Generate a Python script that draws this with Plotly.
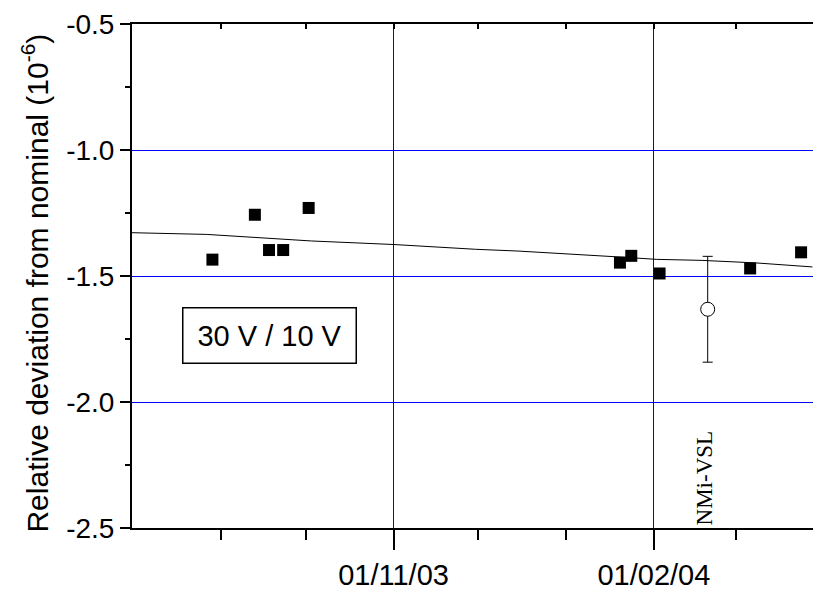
import plotly.graph_objects as go

# ---- data ----
meas_dates = ["2003-08-29", "2003-09-13", "2003-09-18", "2003-09-23", "2003-10-02",
              "2004-01-20", "2004-01-24", "2004-02-03", "2004-03-06", "2004-03-24"]
meas_values = [-1.435, -1.257, -1.397, -1.397, -1.230,
               -1.447, -1.420, -1.490, -1.470, -1.406]

ref_dates = ["2004-02-20"]
ref_values = [-1.632]
ref_unc = [0.21]

fit_dates = ["2003-07-31", "2003-08-27", "2003-10-03", "2003-11-01", "2003-11-30",
             "2003-12-15", "2004-01-19", "2004-02-02", "2004-02-18", "2004-03-08",
             "2004-03-28"]
fit_values = [-1.328, -1.335, -1.361, -1.375, -1.394,
              -1.401, -1.424, -1.434, -1.438, -1.448, -1.464]

x_major = ["2003-11-01", "2004-02-01"]
x_major_text = ["01/11/03", "01/02/04"]
x_minor = ["2003-09-01", "2003-10-01", "2003-12-01", "2004-01-01", "2004-03-01"]
x_top = ["2003-09-01", "2003-10-01", "2003-11-01", "2003-12-01", "2004-01-01",
         "2004-02-01", "2004-03-01"]
y_major = [-2.5, -2.0, -1.5, -1.0, -0.5]
y_major_text = ["-2.5", "-2.0", "-1.5", "-1.0", "-0.5"]
y_minor = [-2.25, -1.75, -1.25, -0.75]

x_range = ["2003-07-31 14:00", "2004-03-28 05:00"]
y_range = [-2.5, -0.5]

FONT = "Liberation Sans, Arial, sans-serif"
GRID = "#0000ff"

fig = go.Figure()

fig.add_trace(go.Scatter(x=fit_dates, y=fit_values, mode="lines",
                         line=dict(color="black", width=1), showlegend=False))
fig.add_trace(go.Scatter(x=meas_dates, y=meas_values, mode="markers",
                         marker=dict(symbol="square", size=12, color="black",
                                     line=dict(width=0)),
                         showlegend=False))
fig.add_trace(go.Scatter(x=ref_dates, y=ref_values, mode="markers",
                         marker=dict(symbol="circle", size=14, color="white",
                                     line=dict(color="black", width=1)),
                         error_y=dict(type="data", array=ref_unc, color="black",
                                      thickness=1, width=5),
                         showlegend=False))
# invisible trace for the top axis
fig.add_trace(go.Scatter(x=x_range, y=[-3, -3], xaxis="x2", mode="markers",
                         marker=dict(opacity=0), showlegend=False, hoverinfo="skip"))

fig.update_layout(
    width=813, height=591, autosize=False,
    margin=dict(l=132, r=0, t=24, b=60),
    paper_bgcolor="white", plot_bgcolor="white",
    font=dict(family=FONT, size=28, color="black"),
    xaxis=dict(type="date", range=x_range,
               tickmode="array", tickvals=x_major, ticktext=x_major_text,
               ticks="outside", ticklen=20, tickwidth=2, tickcolor="black",
               showline=True, linewidth=2, linecolor="black",
               showgrid=True, gridcolor=GRID, gridwidth=1,
               zeroline=False,
               tickfont=dict(family=FONT, size=29),
               minor=dict(tickmode="array", tickvals=x_minor, ticks="outside",
                          ticklen=10, tickwidth=2, tickcolor="black",
                          showgrid=False)),
    xaxis2=dict(type="date", range=x_range, overlaying="x", side="top",
                tickmode="array", tickvals=x_top, ticks="inside", ticklen=5,
                tickwidth=2, tickcolor="black", showticklabels=False,
                showline=True, linewidth=2, linecolor="black",
                showgrid=False, zeroline=False),
    yaxis=dict(range=y_range, tickmode="array", tickvals=y_major,
               ticktext=y_major_text,
               ticks="outside", ticklen=10, tickwidth=2, tickcolor="black",
               showline=True, linewidth=2, linecolor="black",
               showgrid=True, gridcolor=GRID, gridwidth=1,
               zeroline=False,
               tickfont=dict(family=FONT, size=28),
               minor=dict(tickmode="array", tickvals=y_minor, ticks="outside",
                          ticklen=5, tickwidth=2, tickcolor="black",
                          showgrid=False)),
)

# y-axis title
fig.add_annotation(text="Relative deviation from nominal (10<sup>-6</sup>)",
                   xref="paper", yref="paper", x=0, y=0.485,
                   xanchor="center", yanchor="middle", xshift=-97,
                   textangle=-90, showarrow=False,
                   font=dict(family=FONT, size=30, color="black"))

# boxed label
fig.add_annotation(text="30 V / 10 V", xref="paper", yref="paper",
                   x=0.2025, y=0.382, xanchor="center", yanchor="middle",
                   showarrow=False, bordercolor="black", borderwidth=1.5,
                   width=170, height=52, borderpad=1, bgcolor="white",
                   font=dict(family=FONT, size=29, color="black"))

# NMi-VSL label
fig.add_annotation(text="NMi-VSL", xref="x", yref="y",
                   x="2004-02-19", y=-2.30, xanchor="center", yanchor="middle",
                   textangle=-90, showarrow=False,
                   font=dict(family="Liberation Serif, Times New Roman, serif",
                             size=23, color="black"))

fig.write_html("out.html")
